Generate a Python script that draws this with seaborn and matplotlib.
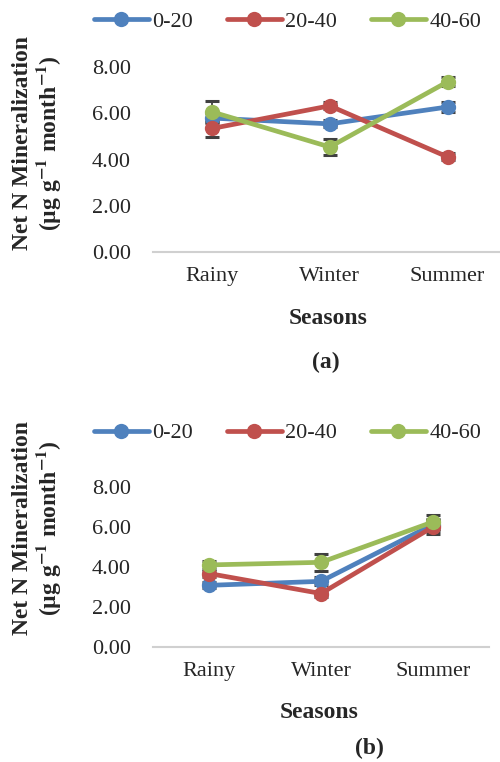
"""
Mineralización neta de N por estación y profundidad — paneles (a) y (b).
"""

import numpy as np
import pandas as pd
import matplotlib
matplotlib.use("Agg")
import matplotlib.pyplot as plt
from matplotlib.lines import Line2D
import seaborn as sns

# Datos
seasons = ["Rainy", "Winter", "Summer"]
depths = ["0-20", "20-40", "40-60"]

# Panel (a)
a_0_20 = [5.80, 5.55, 6.28]
a_20_40 = [5.35, 6.33, 4.12]
a_40_60 = [6.07, 4.55, 7.37]
a_err_0_20 = [0.20, 0.15, 0.20]
a_err_20_40 = [0.35, 0.15, 0.15]
a_err_40_60 = [0.45, 0.33, 0.20]

# Panel (b)
b_0_20 = [3.08, 3.28, 6.12]
b_20_40 = [3.67, 2.67, 6.00]
b_40_60 = [4.10, 4.23, 6.25]
b_err_0_20 = [0.15, 0.20, 0.30]
b_err_20_40 = [0.15, 0.15, 0.37]
b_err_40_60 = [0.20, 0.42, 0.33]

yticks = [0, 2, 4, 6, 8]
colors = ["#4F81BD", "#C0504D", "#9BBB59"]

sns.set_theme(style="white")
plt.rcParams["font.family"] = ["Liberation Serif", "DejaVu Serif"]
plt.rcParams["mathtext.fontset"] = "stix"
plt.rcParams["mathtext.default"] = "bf"

fig = plt.figure(figsize=(5.0, 7.62), dpi=100)


def draw_panel(rect, values, errors, legend_y, label, label_xy, ylabel_y):
    ax = fig.add_axes(rect)
    df = pd.DataFrame({
        "Season": seasons * 3,
        "Depth": np.repeat(depths, 3),
        "Value": np.concatenate(values),
    })
    x = np.arange(len(seasons))
    for vals, errs in zip(values, errors):
        ax.errorbar(x, vals, yerr=errs, fmt="none", ecolor="#404040",
                    elinewidth=1.3, capsize=5, capthick=2.2, zorder=1)
    sns.lineplot(data=df, x="Season", y="Value", hue="Depth",
                 palette=colors, marker="o", markersize=11,
                 markeredgewidth=0, linewidth=3.4, legend=False,
                 ax=ax, zorder=2)

    ax.set_xlim(-0.5, 2.5)
    ax.set_ylim(0, 8)
    ax.set_yticks(yticks)
    ax.set_yticklabels([f"{t:.2f}" for t in yticks], fontsize=16)
    ax.set_xticks(x)
    ax.set_xticklabels(seasons, fontsize=16)
    ax.tick_params(axis="y", length=0, pad=16)
    ax.tick_params(axis="x", length=0, pad=11)
    ax.set_xlabel("")
    ax.set_ylabel("")
    for side in ["top", "right", "left"]:
        ax.spines[side].set_visible(False)
    ax.spines["bottom"].set_color("#d0d0d0")
    ax.spines["bottom"].set_linewidth(1.5)
    ax.patch.set_alpha(0)

    # Eje X y panel
    fig.text(rect[0] + rect[2] / 2 - 0.004, rect[1] - 66 / 762, "Seasons",
             ha="center", va="center", fontsize=17, fontweight="bold")
    fig.text(0.075, ylabel_y,
             "Net N Mineralization\n(µg g$^{-1}$ month$^{-1}$)",
             rotation=90, ha="center", va="center", fontsize=17,
             fontweight="bold", linespacing=1.05, multialignment="center")
    fig.text(label_xy[0], label_xy[1], label, ha="center", va="center",
             fontsize=17, fontweight="bold")

    handles = [Line2D([0], [0], color=c, linewidth=3.4, marker="o",
                      markersize=11, markeredgewidth=0) for c in colors]
    fig.legend(handles, depths, loc="center", ncol=3,
               bbox_to_anchor=(0.575, legend_y), frameon=False, fontsize=16,
               handlelength=2.5, handletextpad=0.15, columnspacing=1.5)
    return ax


draw_panel([0.306, 0.669, 0.707, 0.2428],
           [a_0_20, a_20_40, a_40_60],
           [a_err_0_20, a_err_20_40, a_err_40_60],
           legend_y=1 - 22 / 762, label="(a)",
           label_xy=(0.652, 1 - 362 / 762), ylabel_y=1 - 143 / 762)

draw_panel([0.306, 0.151, 0.672, 0.21],
           [b_0_20, b_20_40, b_40_60],
           [b_err_0_20, b_err_20_40, b_err_40_60],
           legend_y=1 - 433 / 762, label="(b)",
           label_xy=(0.738, 1 - 748 / 762), ylabel_y=1 - 528 / 762)

fig.savefig("out.png", dpi=100, facecolor="white")
